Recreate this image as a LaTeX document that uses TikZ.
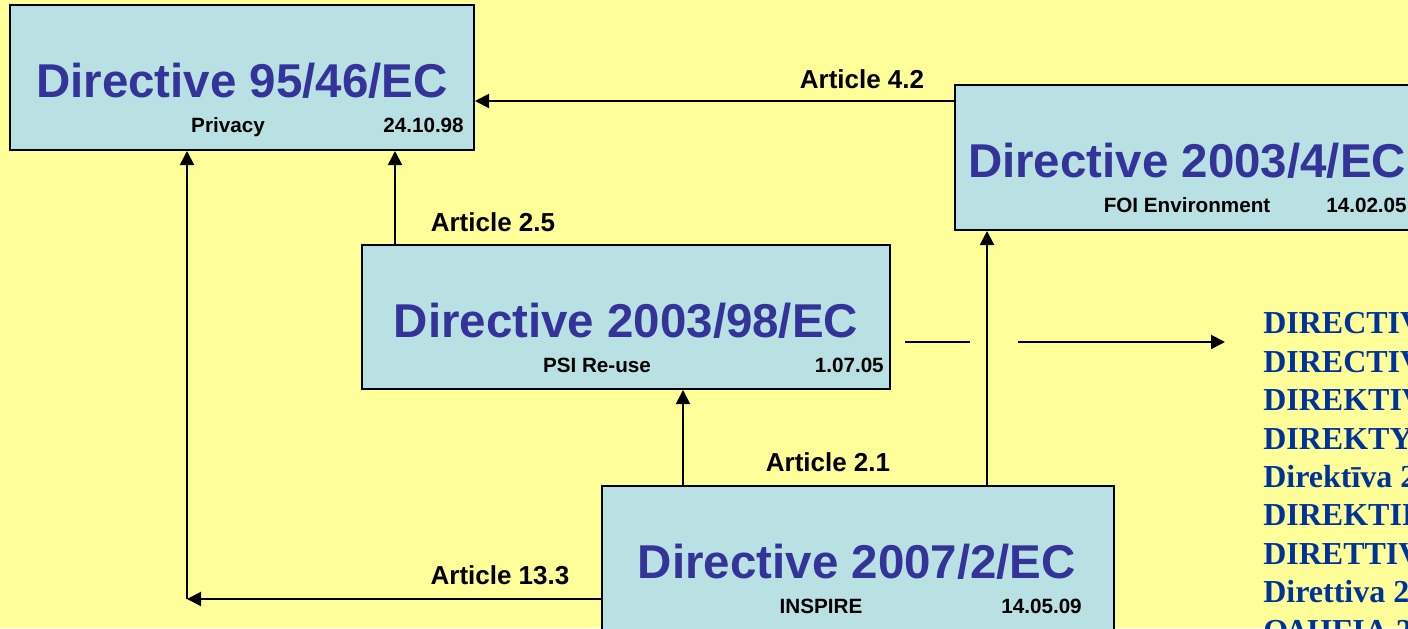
\documentclass[tikz,border=0pt]{standalone}
\usepackage{fontspec}
\setmainfont{Liberation Serif}
\newfontfamily\arialf{Liberation Sans}
\usetikzlibrary{arrows.meta,calc}
\definecolor{bgyellow}{HTML}{FFFF99}
\definecolor{boxblue}{HTML}{B9E0E3}
\definecolor{titleblue}{HTML}{333399}
\definecolor{listblue}{HTML}{003399}
\begin{document}
\begin{tikzpicture}[x=0.75pt,y=-0.75pt,
  dirbox/.style={draw=black,line width=1.5pt,fill=boxblue,inner sep=0pt},
  titletext/.style={font=\arialf\bfseries\fontsize{35.6}{40}\selectfont,text=titleblue,inner sep=0pt},
  subtext/.style={font=\arialf\bfseries\fontsize{15.5}{18}\selectfont,text=black,inner sep=0pt},
  arttext/.style={font=\arialf\bfseries\fontsize{19.5}{23}\selectfont,text=black,inner sep=0pt},
  arr/.style={line width=1.5pt,-{Triangle[length=10.5pt,width=10.5pt]}},
  plain/.style={line width=1.5pt}]
\useasboundingbox (0,0) rectangle (1408,628);
\fill[bgyellow] (0,0) rectangle (1408,628);
\clip (0,0) rectangle (1408,628);

% boxes
\node[dirbox,minimum width=348pt,minimum height=108.75pt] (A) at (242,77.5) {};
\node[dirbox,minimum width=348pt,minimum height=108.75pt] (B) at (1187,157.5) {};
\node[dirbox,minimum width=396pt,minimum height=108pt] (C) at (626,317) {};
\node[dirbox,minimum width=384pt,minimum height=108.75pt] (D) at (858,558.5) {};

% box texts
\node[titletext,anchor=base] (At) at (242,97) {Directive 95/46/EC};
\node[subtext,anchor=base] (As) at (228,132) {Privacy};
\node[subtext,anchor=base east] (Ad) at (464,132) {24.10.98};

\node[titletext,anchor=base] (Bt) at (1187,177) {Directive 2003/4/EC};
\node[subtext,anchor=base] (Bs) at (1187,212) {FOI Environment};
\node[subtext,anchor=base west] (Bd) at (1326,212) {14.02.05};

\node[titletext,anchor=base] (Ct) at (626,337) {Directive 2003/98/EC};
\node[subtext,anchor=base] (Cs) at (597,372) {PSI Re-use};
\node[subtext,anchor=base east] (Cd) at (884,372) {1.07.05};

\node[titletext,anchor=base] (Dt) at (857,578) {Directive 2007/2/EC};
\node[subtext,anchor=base] (Ds) at (821,613) {INSPIRE};
\node[subtext,anchor=base east] (Dd) at (1082,613) {14.05.09};

% connectors
\draw[arr] (B.west |- 0,101) -- (A.east |- 0,101);
\draw[arr] (C.north -| 395,0) -- (A.south -| 395,0);
\draw[arr] (D.north -| 683,0) -- (C.south -| 683,0);
\draw[arr] (D.north -| 987,0) -- (B.south -| 987,0);
\coordinate (corner) at (187,599);
\draw[arr] (D.west |- corner) -- (corner);
\draw[arr] (corner) -- (A.south -| corner);
\coordinate (j1) at (905,342);
\coordinate (j2) at (970,342);
\coordinate (j3) at (1018,342);
\coordinate (j4) at (1225,342);
\draw[plain] (j1) -- (j2);
\draw[arr] (j3) -- (j4);

% article labels
\node[arttext,anchor=base] (a42) at (862,88) {Article 4.2};
\node[arttext,anchor=base] (a25) at (493,231) {Article 2.5};
\node[arttext,anchor=base] (a21) at (828,471) {Article 2.1};
\node[arttext,anchor=base] (a133) at (500,584) {Article 13.3};

% language list
\node[anchor=base west,align=left,inner sep=0pt,text=listblue,
      font=\bfseries\fontsize{24}{28.8}\selectfont] (list) at (1263,641)
 {DIRECTIVE 2003/98/EC\\
  DIRECTIVA 2003/98/CE\\
  DIREKTIVA 2003/98/ES\\
  DIREKTYVA 2003/98/EB\\
  Direktīva 2003/98/EK\\
  DIREKTIIVI 2003/98/EY\\
  DIRETTIVA 2003/98/CE\\
  Direttiva 2003/98/KE\\
  ΟΔΗΓΙΑ 2003/98/ΕΚ};
\end{tikzpicture}
\end{document}
